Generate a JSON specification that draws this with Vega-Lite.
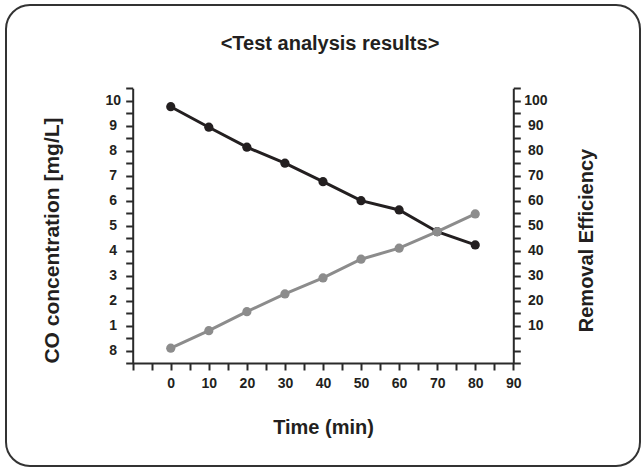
{
  "$schema": "https://vega.github.io/schema/vega-lite/v6.json",
  "autosize": "none",
  "width": 634,
  "height": 461,
  "padding": {"left": 6, "top": 5, "right": 1, "bottom": 3},
  "background": "white",
  "config": {
    "font": "Liberation Sans",
    "view": {"stroke": "#333333", "strokeWidth": 2, "cornerRadius": 24, "fill": "white"},
    "axis": {
      "grid": false,
      "domainColor": "#2a2a2a",
      "domainWidth": 2,
      "tickColor": "#2a2a2a",
      "tickWidth": 2,
      "tickSize": 7,
      "labelFont": "Liberation Sans",
      "labelFontWeight": "bold",
      "labelFontSize": 14,
      "labelColor": "#231f20",
      "titleFont": "Liberation Sans",
      "titleFontWeight": "bold",
      "titleFontSize": 20,
      "titleColor": "#231f20",
      "labelOverlap": false,
      "labelBound": false,
      "labelFlush": false
    }
  },
  "title": {
    "text": "<Test analysis results>",
    "font": "Liberation Sans",
    "fontSize": 20,
    "fontWeight": "bold",
    "color": "#231f20",
    "anchor": "middle",
    "frame": "group",
    "baseline": "alphabetic",
    "offset": -65,
    "dx": 7
  },
  "data": {
    "values": [
      {"time": 0, "co": 9.76, "eff": 1.0},
      {"time": 10, "co": 8.94, "eff": 8.0},
      {"time": 20, "co": 8.14, "eff": 15.6},
      {"time": 30, "co": 7.5, "eff": 22.7},
      {"time": 40, "co": 6.76, "eff": 29.1},
      {"time": 50, "co": 6.0, "eff": 36.6},
      {"time": 60, "co": 5.63, "eff": 41.0},
      {"time": 70, "co": 4.76, "eff": 47.6},
      {"time": 80, "co": 4.23, "eff": 54.7}
    ]
  },
  "encoding": {
    "x": {
      "field": "time",
      "type": "quantitative",
      "scale": {"domain": [-10, 90], "range": [126.7, 507.3], "nice": false, "zero": false},
      "axis": {
        "title": "Time (min)",
        "offset": -103,
        "values": [-10, -5, 0, 5, 10, 15, 20, 25, 30, 35, 40, 45, 50, 55, 60, 65, 70, 75, 80, 85, 90],
        "labelExpr": "(datum.value % 10 != 0 || datum.value < 0) ? '' : format(datum.value, '.0f')",
        "labelPadding": 6,
        "titlePadding": 27,
        "titleBaseline": "top"
      }
    }
  },
  "layer": [
    {
      "layer": [
        {"mark": {"type": "line", "color": "#231f20", "strokeWidth": 3}, "encoding": {}},
        {"mark": {"type": "point", "filled": true, "color": "#231f20", "size": 85, "opacity": 1}, "encoding": {}}
      ],
      "encoding": {
        "y": {
          "field": "co",
          "type": "quantitative",
          "scale": {"domain": [-0.5, 10.5], "range": [358.2, 83.2], "nice": false, "zero": false},
          "axis": {
            "orient": "left",
            "title": "CO concentration [mg/L]",
            "titleFontSize": 21,
            "offset": -126.7,
            "values": [-0.5, 0, 0.5, 1, 1.5, 2, 2.5, 3, 3.5, 4, 4.5, 5, 5.5, 6, 6.5, 7, 7.5, 8, 8.5, 9, 9.5, 10, 10.5],
            "labelExpr": "(datum.value * 2) % 2 != 0 ? '' : (datum.value == 0 ? '8' : format(datum.value, '.0f'))",
            "labelAlign": "center",
            "labelPadding": 13,
            "titlePadding": 42,
            "titleY": 235
          }
        }
      }
    },
    {
      "layer": [
        {"mark": {"type": "line", "color": "#8c8c8c", "strokeWidth": 3}, "encoding": {}},
        {"mark": {"type": "point", "filled": true, "color": "#8c8c8c", "size": 85, "opacity": 1}, "encoding": {}}
      ],
      "encoding": {
        "y": {
          "field": "eff",
          "type": "quantitative",
          "scale": {"domain": [-5, 105], "range": [358.2, 83.2], "nice": false, "zero": false},
          "axis": {
            "orient": "right",
            "title": "Removal Efficiency",
            "offset": -126.7,
            "values": [-5, 0, 5, 10, 15, 20, 25, 30, 35, 40, 45, 50, 55, 60, 65, 70, 75, 80, 85, 90, 95, 100, 105],
            "labelExpr": "(datum.value % 10 != 0 || datum.value <= 0) ? '' : format(datum.value, '.0f')",
            "labelAlign": "center",
            "labelPadding": 15,
            "titleAngle": 270,
            "titleBaseline": "top",
            "titlePadding": 30,
            "titleY": 235
          }
        }
      }
    }
  ],
  "resolve": {"scale": {"y": "independent"}}
}
